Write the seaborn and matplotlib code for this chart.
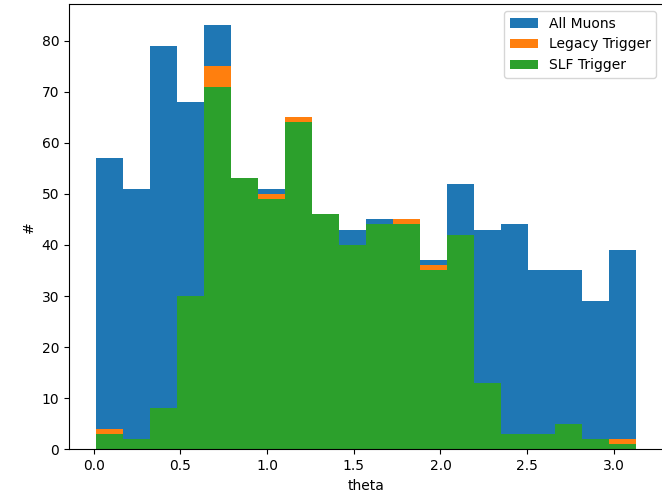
import numpy as np
import pandas as pd
import matplotlib
matplotlib.use("Agg")
import matplotlib.pyplot as plt
import seaborn as sns

# 直方图数据 (20 个 bin, theta 从约 0.013 到 3.128)
theta_lo = 0.013
theta_hi = 3.128
n_bins = 20
all_muons = [57, 51, 79, 68, 83, 53, 51, 65, 46, 43, 45, 45, 37, 52, 43, 44, 35, 35, 29, 39]
legacy_trigger = [4, 2, 8, 30, 75, 53, 50, 65, 46, 40, 44, 45, 36, 42, 13, 3, 3, 5, 2, 2]
slf_trigger = [3, 2, 8, 30, 71, 53, 49, 64, 46, 40, 44, 44, 35, 42, 13, 3, 3, 5, 2, 1]

edges = np.linspace(theta_lo, theta_hi, n_bins + 1)
centers = (edges[:-1] + edges[1:]) / 2

fig = plt.figure(figsize=(6.62, 5.03), dpi=100)
ax = fig.add_axes([69 / 662, 1 - 449.3 / 503, 594 / 662, 445.3 / 503])

series = [(all_muons, "All Muons", "#1f77b4"),
          (legacy_trigger, "Legacy Trigger", "#ff7f0e"),
          (slf_trigger, "SLF Trigger", "#2ca02c")]
for counts, name, col in series:
    df = pd.DataFrame({"theta": centers, "n": counts})
    # bins 传 list, 传 ndarray 会在 seaborn 里报错
    sns.histplot(data=df, x="theta", weights="n", bins=list(edges), color=col,
                 alpha=1, linewidth=0, label=name, ax=ax)

ax.set_xlabel("theta")
ax.set_ylabel("#")
ax.legend(loc="upper right")

fig.savefig("out.png", dpi=100)
